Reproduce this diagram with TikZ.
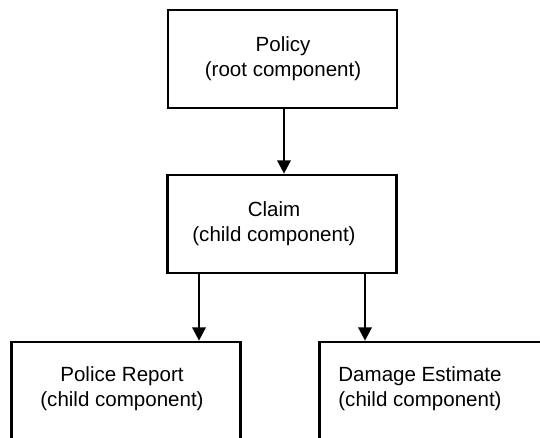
\documentclass[tikz,border=0pt]{standalone}
\usepackage{fontspec}
\setmainfont{Liberation Sans}
\usetikzlibrary{arrows.meta}
\begin{document}
\begin{tikzpicture}[x=0.75pt,y=-0.75pt,
  box/.style={draw=black,line width=2pt,minimum width=171.75pt,minimum height=73.5pt,inner sep=0pt},
  txt/.style={align=center,font=\fontsize{15.4pt}{18.75pt}\selectfont,inner sep=0pt},
  arr/.style={line width=1.9pt,-{Triangle[width=10pt,length=10pt]}}]
  \useasboundingbox (0,0) rectangle (540,437);
  % boxes
  \node[box] (policy) at (282.5,59) {};
  \node[box] (claim)  at (282,224) {};
  \node[box] (police) at (126,391) {};
  \node[box] (damage) at (434,391) {};
  % captions
  \node[txt] (policyt) at ([xshift=0.4pt]policy.center) {Policy\\(root component)};
  \node[txt] (claimt)  at ([xshift=-6pt]claim.center)   {Claim\\(child component)};
  \node[txt] (policet) at ([xshift=-3pt,yshift=1.5pt]police.center)  {Police Report\\(child component)};
  \node[txt] (damaget) at ([xshift=-10.5pt,yshift=1.5pt]damage.center) {Damage Estimate\\(child component)};
  % connectors
  \coordinate (mx) at (284,0);
  \coordinate (lx) at (199,0);
  \coordinate (rx) at (365,0);
  \draw[arr] (policy.south -| mx) -- (claim.north -| mx);
  \draw[arr] (claim.south -| lx) -- (police.north -| lx);
  \draw[arr] (claim.south -| rx) -- (damage.north -| rx);
\end{tikzpicture}
\end{document}
